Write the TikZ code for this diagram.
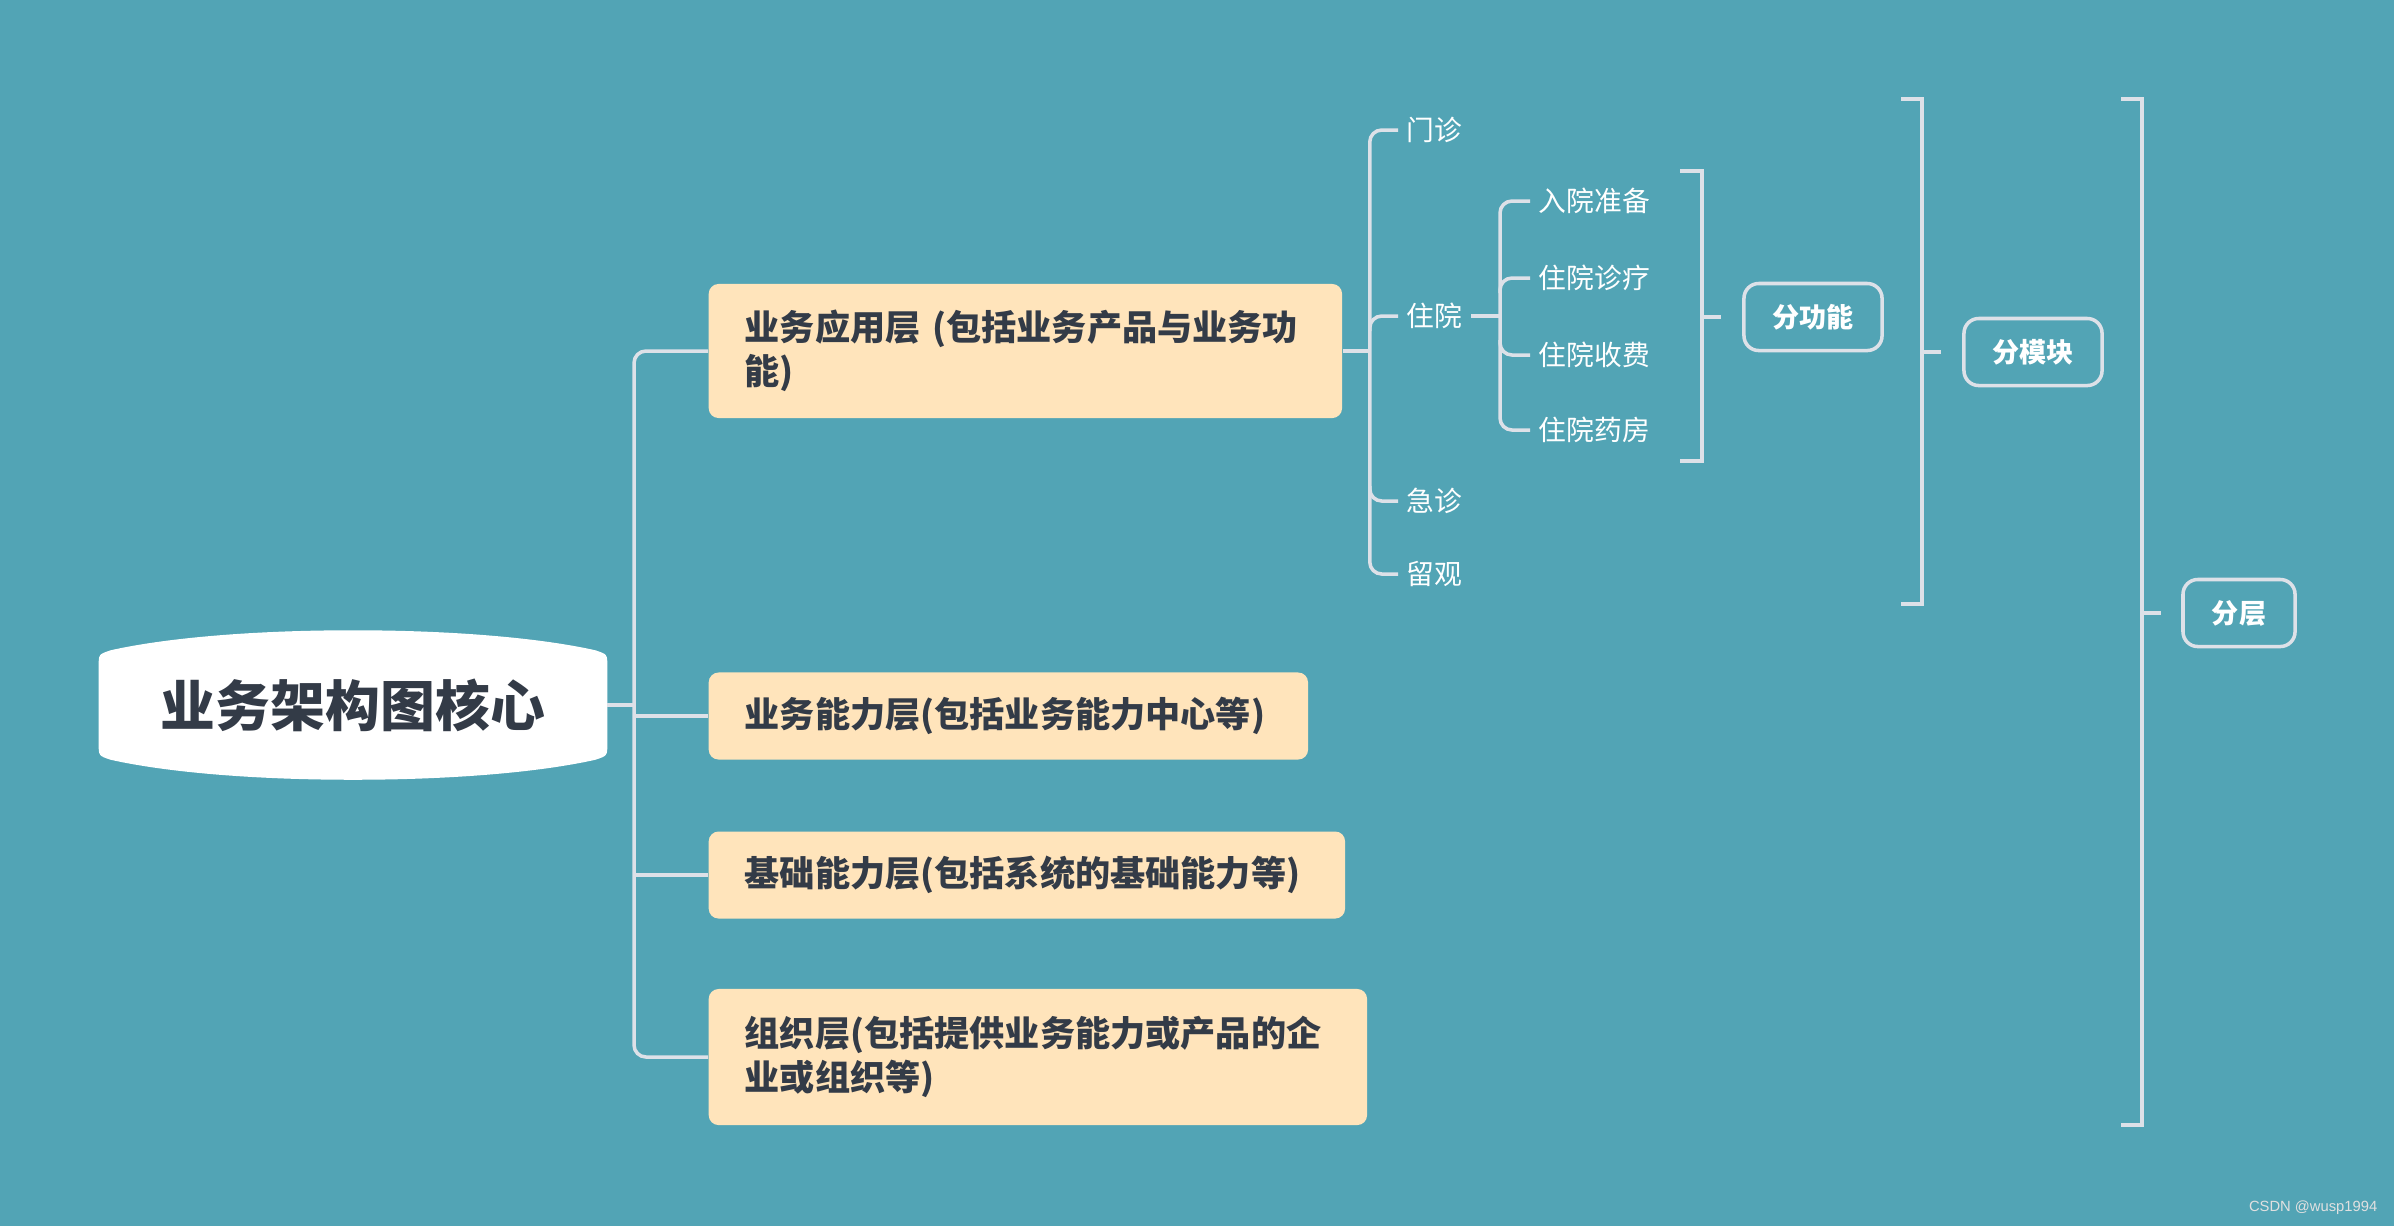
\documentclass[tikz,border=0pt]{standalone}
\usepackage{fontspec}
\setmainfont{Noto Sans CJK SC}
\newfontfamily\marksans{Liberation Sans}
\usetikzlibrary{calc,backgrounds}

\definecolor{bgteal}{HTML}{52A4B5}
\definecolor{boxfill}{HTML}{FFE4BB}
\definecolor{ink}{HTML}{333B47}
\definecolor{wire}{HTML}{DDE1E8}

\begin{document}
\begin{tikzpicture}[
  x=0.01cm,y=-0.01cm,
  core/.style={minimum width=5.07cm,minimum height=1.48cm,inner sep=0pt,
               text=ink,font=\fontsize{15.6}{18}\selectfont\bfseries},
  layer/.style={fill=boxfill,rounded corners=2.8pt,anchor=west,align=left,
                inner xsep=0.36cm,inner ysep=0pt,text=ink,
                font=\fontsize{10}{12.5}\selectfont\bfseries},
  leaf/.style={anchor=west,inner xsep=0.08cm,inner ysep=2pt,text=white,
               font=\fontsize{7.9}{9}\selectfont},
  tag/.style={draw=wire,line width=1pt,rounded corners=4.2pt,fill=bgteal,
              minimum width=1.38cm,minimum height=0.67cm,text=white,
              font=\fontsize{7.7}{9}\selectfont\bfseries},
  link/.style={draw=wire,line width=1pt},
  brace/.style={draw=wire,line width=1pt}
]

% ---- fond ----
\begin{scope}[on background layer]
  \fill[bgteal] (0,0) rectangle (2394,1226);
\end{scope}

% ---- noeud central ----
\node[core] (core) at (353,705) {业务架构图核心};
\begin{scope}[on background layer]
  \fill[white] ($(core.north west)+(0,36)$)
     .. controls ($(core.north west)+(0,24)$) .. ($(core.north west)+(12,20)$)
     .. controls ($(core.north west)+(70,7)$) and ($(core.north)+(-95,0)$) .. (core.north)
     .. controls ($(core.north)+(95,0)$) and ($(core.north east)+(-70,7)$) .. ($(core.north east)+(-12,20)$)
     .. controls ($(core.north east)+(0,24)$) .. ($(core.north east)+(0,36)$)
     -- ($(core.south east)+(0,-36)$)
     .. controls ($(core.south east)+(0,-24)$) .. ($(core.south east)+(-12,-20)$)
     .. controls ($(core.south east)+(-70,-7)$) and ($(core.south)+(95,0)$) .. (core.south)
     .. controls ($(core.south)+(-95,0)$) and ($(core.south west)+(70,-7)$) .. ($(core.south west)+(12,-20)$)
     .. controls ($(core.south west)+(0,-24)$) .. ($(core.south west)+(0,-36)$)
     -- cycle;
\end{scope}

% ---- les quatre couches ----
\node[layer,text width=5.61cm,minimum height=1.34cm] (app) at (708,351)
  {业务应用层 (包括业务产品与业务功\\能)};
\node[layer,text width=5.27cm,minimum height=0.87cm] (ability) at (708,716)
  {业务能力层(包括业务能力中心等)};
\node[layer,text width=5.64cm,minimum height=0.87cm] (base) at (708,875)
  {基础能力层(包括系统的基础能力等)};
\node[layer,text width=5.86cm,minimum height=1.36cm] (org) at (708,1057)
  {组织层(包括提供业务能力或产品的企\\业或组织等)};

% tronc
\coordinate (trunk) at ($(app.west)+(-74,0)$);
\draw[link,rounded corners=3.4pt] (app.west) -| (trunk |- org.west) -- (org.west);
\draw[link] (ability.west) -- (ability.west -| trunk);
\draw[link] (base.west) -- (base.west -| trunk);
\draw[link] (core.east) -- (core.east -| trunk);

% ---- modules de la couche application ----
\node[leaf] (mz) at (1398,130) {门诊};
\node[leaf] (zy) at (1398,316) {住院};
\node[leaf] (jz) at (1398,501) {急诊};
\node[leaf] (lg) at (1398,574) {留观};

\coordinate (appfork) at ($(app.east)+(27,0)$);
\draw[link] (app.east) -- (appfork);
\draw[link,rounded corners=3.4pt] (mz.west) -| (appfork |- lg.west) -- (lg.west);
\draw[link,rounded corners=3.4pt] ($(appfork |- zy.west)+(0,15)$) |- (zy.west);
\draw[link,rounded corners=3.4pt] ($(appfork |- jz.west)+(0,-15)$) |- (jz.west);

% ---- fonctions du module 住院 ----
\node[leaf] (rw) at (1530,201) {入院准备};
\node[leaf] (zl) at (1530,278) {住院诊疗};
\node[leaf] (sf) at (1530,355) {住院收费};
\node[leaf] (yf) at (1530,430) {住院药房};

\coordinate (zyfork) at (1500,316);
\draw[link] (zy.east) -- (zyfork);
\draw[link,rounded corners=3.4pt] (rw.west) -| (zyfork |- yf.west) -- (yf.west);
\draw[link,rounded corners=3.4pt] ($(zyfork |- zl.west)+(0,15)$) |- (zl.west);
\draw[link,rounded corners=3.4pt] ($(zyfork |- sf.west)+(0,-15)$) |- (sf.west);

% ---- accolades de synthese ----
\node[tag] (fgn) at (1813,317) {分功能};
\coordinate (f1top) at (1702,171);
\coordinate (f1bot) at (1702,461);
\draw[brace] ($(f1top)+(-22,0)$) -- (f1top) -- (f1bot) -- ++(-22,0);
\draw[brace] (fgn.west -| f1top) -- ($(fgn.west)+(-21,0)$);

\node[tag] (fmk) at (2033,352) {分模块};
\coordinate (f2top) at (1922,99);
\coordinate (f2bot) at (1922,604);
\draw[brace] ($(f2top)+(-21,0)$) -- (f2top) -- (f2bot) -- ++(-21,0);
\draw[brace] (fmk.west -| f2top) -- ($(fmk.west)+(-21,0)$);

\node[tag,minimum width=1.12cm] (fc) at (2239,613) {分层};
\coordinate (f3top) at (2142,99);
\coordinate (f3bot) at (2142,1125);
\draw[brace] ($(f3top)+(-21,0)$) -- (f3top) -- (f3bot) -- ++(-21,0);
\draw[brace] (fc.west -| f3top) -- ($(fc.west)+(-20,0)$);

% filigrane
\node[anchor=east,inner sep=0pt,text=black!12,font=\marksans\fontsize{4.2}{5}\selectfont]
  (mark) at (2378,1208) {CSDN @wusp1994};

\end{tikzpicture}
\end{document}
